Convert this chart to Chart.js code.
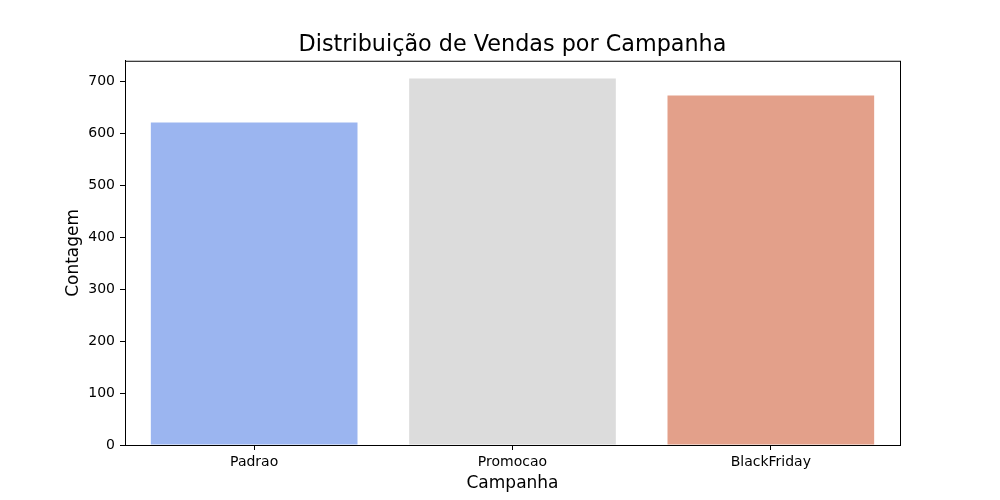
<!DOCTYPE html>
<html>
<head>
<meta charset="utf-8">
<script src="https://cdn.jsdelivr.net/npm/chart.js@4.4.1/dist/chart.umd.min.js"></script>
<style>
  html, body { margin: 0; padding: 0; background: #fff; }
  #wrap { width: 1000px; height: 500px; }
</style>
</head>
<body>
<div id="wrap"><canvas id="chart" width="1000" height="500"></canvas></div>
<script>
'use strict';

// ── Data ──
const campanhas = ['Padrao', 'Promocao', 'BlackFriday'];
const contagem  = [621, 706, 673];
const barColors = ['#9bb5f0', '#dcdcdc', '#e3a08a'];

// Frame around the plot area (matplotlib spines)
const framePlugin = {
  id: 'frame',
  afterDraw(chart) {
    const { ctx, chartArea: a } = chart;
    ctx.save();
    ctx.strokeStyle = '#000';
    ctx.lineWidth = 1;
    ctx.strokeRect(a.left + 0.5, a.top + 0.5, a.right - a.left, a.bottom - a.top);
    ctx.restore();
  }
};

Chart.defaults.font.family = 'DejaVu Sans';
Chart.defaults.color = '#000';

new Chart(document.getElementById('chart').getContext('2d'), {
  type: 'bar',
  data: {
    labels: campanhas,
    datasets: [{
      data: contagem,
      backgroundColor: barColors,
      borderWidth: 0,
      barPercentage: 0.8,
      categoryPercentage: 1.0,
    }]
  },
  options: {
    responsive: false,
    animation: false,
    layout: { padding: { left: 0, right: 100, top: 0, bottom: 0 } },
    plugins: {
      legend: { display: false },
      tooltip: { enabled: false },
      title: {
        display: true,
        fullSize: false,
        text: 'Distribuição de Vendas por Campanha',
        font: { size: 22.3, weight: 'normal' },
        color: '#000',
        padding: { top: 32, bottom: 2 },
      },
    },
    scales: {
      x: {
        offset: true,
        grid: { offset: false, drawOnChartArea: false, drawTicks: true, tickLength: 5, color: '#000' },
        border: { display: true, color: '#000' },
        ticks: { font: { size: 14 }, padding: 4 },
        title: { display: true, text: 'Campanha', font: { size: 17 }, padding: { top: 0, bottom: 6 } },
        afterFit(scale) { scale.height = 55; },
      },
      y: {
        min: 0,
        max: 740,
        grid: { drawOnChartArea: false, drawTicks: true, tickLength: 5, color: '#000' },
        border: { display: true, color: '#000' },
        ticks: { stepSize: 100, includeBounds: false, font: { size: 14 }, padding: 5 },
        title: { display: true, text: 'Contagem', font: { size: 17 }, padding: { top: 63, bottom: 0 } },
        afterFit(scale) { scale.width = 125; },
      }
    }
  },
  plugins: [framePlugin]
});
</script>
</body>
</html>
